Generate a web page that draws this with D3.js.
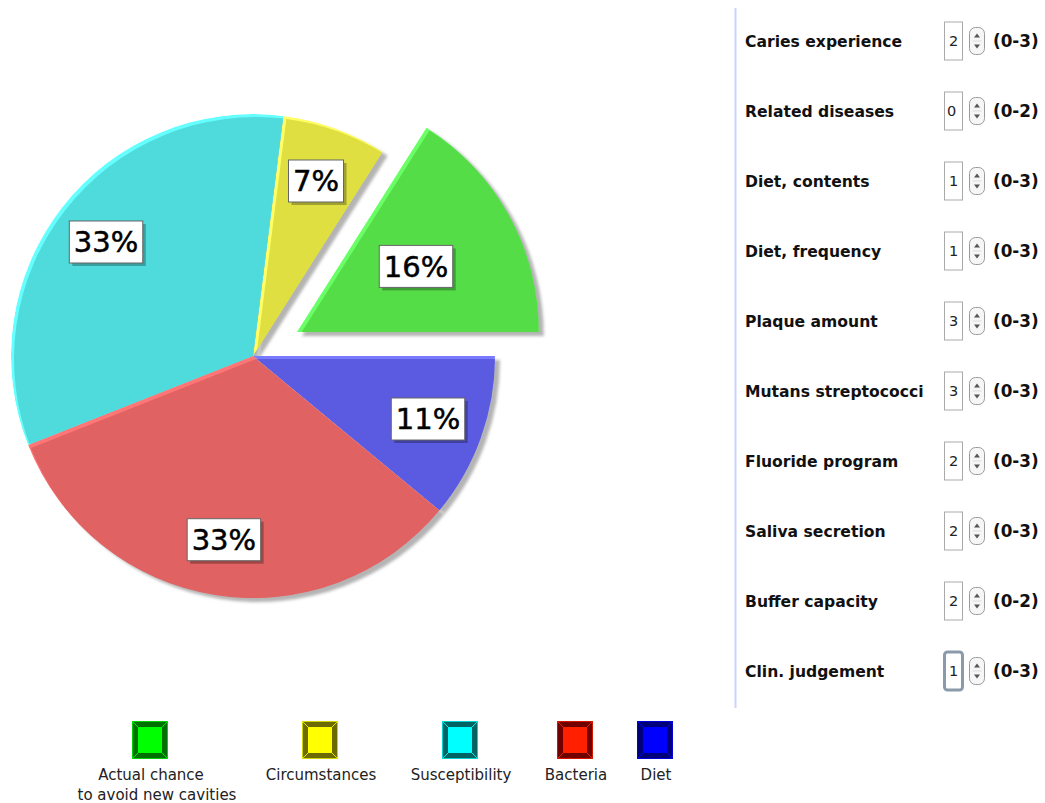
<!DOCTYPE html>
<html><head><meta charset="utf-8">
<script src="https://cdn.jsdelivr.net/npm/d3@7"></script>
<style>body{margin:0;background:#fff;}svg{display:block;}</style>
</head><body>
<svg id="c" width="1045" height="803"></svg>
<script>
// ---- data ----
const categories = ["Actual chance|to avoid new cavities", "Circumstances", "Susceptibility", "Bacteria", "Diet"];
const shares = [16, 7, 33, 33, 11];
const exploded = [true, false, false, false, false];
const sliceColors = ["#55dd48", "#dfdf42", "#4fdbdb", "#e06262", "#5b5be2"];
const sliceHighlights = ["#6aff66", "#ffff66", "#66ffff", "#ff7676", "#7a7aff"];
const legendColors = ["#00ff00", "#ffff00", "#00ffff", "#ff2000", "#0000ff"];
const legendDark = ["#007000", "#6b6b00", "#006464", "#700000", "#00007a"];

const factorLabels = ["Caries experience", "Related diseases", "Diet, contents", "Diet, frequency", "Plaque amount", "Mutans streptococci", "Fluoride program", "Saliva secretion", "Buffer capacity", "Clin. judgement"];
const factorValues = [2, 0, 1, 1, 3, 3, 2, 2, 2, 1];
const factorRanges = ["(0-3)", "(0-2)", "(0-3)", "(0-3)", "(0-3)", "(0-3)", "(0-3)", "(0-3)", "(0-2)", "(0-3)"];

// ---- layout ----
const svg = d3.select("#c");
const cx = 253, cy = 356, R = 242, explodeDist = 50, labelR = 186;

const defs = svg.append("defs");
const blur = defs.append("filter").attr("id", "blur").attr("x", "-10%").attr("y", "-10%").attr("width", "120%").attr("height", "120%");
blur.append("feGaussianBlur").attr("stdDeviation", 1.6);

const pie = d3.pie().sort(null).value(d => d).startAngle(Math.PI / 2).endAngle(Math.PI / 2 - 2 * Math.PI);
const arcs = pie(shares);
const arc = d3.arc().innerRadius(0).outerRadius(R);
const labelArc = d3.arc().innerRadius(labelR).outerRadius(labelR);

function offset(d, i) {
  if (!exploded[i]) return [0, 0];
  const m = (d.startAngle + d.endAngle) / 2;
  return [Math.sin(m) * explodeDist, -Math.cos(m) * explodeDist];
}

const g = svg.append("g").attr("transform", `translate(${cx},${cy})`);

// shadows
g.selectAll("path.shadow").data(arcs).join("path")
  .attr("class", "shadow")
  .attr("d", arc)
  .attr("fill", "#b4b4b4")
  .attr("filter", "url(#blur)")
  .attr("transform", (d, i) => { const o = offset(d, i); return `translate(${o[0] + 5},${o[1] + 4})`; });

// slices with bevel highlight
arcs.forEach((d, i) => {
  const o = offset(d, i);
  const sg = g.append("g").attr("transform", `translate(${o[0]},${o[1]})`);
  defs.append("clipPath").attr("id", "clip" + i).append("path").attr("d", arc(d));
  const inner = sg.append("g").attr("clip-path", `url(#clip${i})`);
  inner.append("path").attr("d", arc(d)).attr("fill", sliceHighlights[i]);
  inner.append("path").attr("d", arc(d)).attr("fill", sliceColors[i]).attr("transform", "translate(3,3)");
});

// labels
arcs.forEach((d, i) => {
  const [lx, ly] = labelArc.centroid(d);
  const lg = g.append("g").attr("transform", `translate(${lx},${ly})`);
  const shadowRect = lg.append("rect").attr("fill", "rgba(0,0,0,0.28)");
  const rect = lg.append("rect").attr("fill", "#fff").attr("stroke", "#666").attr("stroke-width", 1);
  const t = lg.append("text").text(d.data + "%")
    .attr("text-anchor", "middle").attr("dy", "0.36em")
    .style("font-family", "DejaVu Sans").style("font-size", "29px")
    .attr("fill", "#000").attr("stroke", "#000").attr("stroke-width", 0.5);
  const w = t.node().getComputedTextLength() + 9, h = 42;
  rect.attr("x", -w / 2).attr("y", -h / 2).attr("width", w).attr("height", h);
  shadowRect.attr("x", -w / 2 + 3).attr("y", -h / 2 + 3).attr("width", w).attr("height", h);
});

// legend
const legendX = d3.scaleOrdinal().domain(categories).range([150, 320, 460, 575, 655]);
const lgnd = svg.append("g");
categories.forEach((c, i) => {
  const x = legendX(c), s = 36, hgt = 38, y0 = 721, b = 6;
  const gg = lgnd.append("g").attr("transform", `translate(${x - s / 2},${y0})`);
  gg.append("rect").attr("width", s).attr("height", hgt).attr("fill", legendDark[i]);
  gg.append("path").attr("d", `M0,0 H${s} L${s - b},${b} H${b} V${hgt - b} L0,${hgt} Z`).attr("fill", legendDark[i]).attr("opacity", 0.9);
  gg.append("rect").attr("x", b).attr("y", b).attr("width", s - 2 * b).attr("height", hgt - 2 * b).attr("fill", legendColors[i]);
  gg.append("path").attr("d", `M0.5,0.5 L${b},${b} M${s - 0.5},0.5 L${s - b},${b} M0.5,${hgt - 0.5} L${b},${hgt - b} M${s - 0.5},${hgt - 0.5} L${s - b},${hgt - b}`)
    .attr("stroke", legendColors[i]).attr("stroke-width", 1).attr("opacity", 0.8);
  gg.append("rect").attr("x", 0.5).attr("y", 0.5).attr("width", s - 1).attr("height", hgt - 1).attr("fill", "none").attr("stroke", legendColors[i]).attr("stroke-opacity", 0.7);
  const lines = c.split("|");
  const tx = lgnd.append("text").attr("text-anchor", "middle")
    .style("font-family", "DejaVu Sans").style("font-size", "15px").attr("fill", "#222");
  lines.forEach((ln, j) => {
    tx.append("tspan").attr("x", x + (j === 1 ? 7 : 1)).attr("y", 780 + j * 20).text(ln);
  });
});

// right panel
svg.append("line").attr("x1", 735.5).attr("x2", 735.5).attr("y1", 8).attr("y2", 708)
  .attr("stroke", "#c9d3fb").attr("stroke-width", 2);

const rowY = d3.scalePoint().domain(factorLabels).range([41, 671]);
const panel = svg.append("g");
factorLabels.forEach((lab, i) => {
  const y = rowY(lab);
  panel.append("text").attr("x", 745).attr("y", y).attr("dy", "0.36em").text(lab)
    .style("font-family", "DejaVu Sans").style("font-weight", "bold").style("font-size", "15.6px").attr("fill", "#111");
  const last = i === factorLabels.length - 1;
  panel.append("rect").attr("x", 944.5).attr("y", y - 19).attr("width", 18).attr("height", 38)
    .attr("fill", "#fff")
    .attr("stroke", last ? "#8a9aaa" : "#aaa").attr("stroke-width", last ? 3 : 1).attr("rx", last ? 3 : 0);
  panel.append("text").attr("x", i === 1 ? 947 : 949).attr("y", y).attr("dy", "0.36em").text(factorValues[i])
    .style("font-family", "DejaVu Sans").style("font-size", "14.5px").attr("fill", "#222");
  const sp = panel.append("g").attr("transform", `translate(969.5,${y - 13.5})`);
  sp.append("rect").attr("width", 15).attr("height", 27).attr("rx", 6).attr("fill", "#f6f6f6").attr("stroke", "#9a9a9a");
  sp.append("line").attr("x1", 3).attr("x2", 12).attr("y1", 13.5).attr("y2", 13.5).attr("stroke", "#ddd");
  sp.append("path").attr("d", "M7.5,6 L10.5,10 L4.5,10 Z").attr("fill", "#555");
  sp.append("path").attr("d", "M7.5,21 L10.5,17 L4.5,17 Z").attr("fill", "#555");
  panel.append("text").attr("x", 993).attr("y", y).attr("dy", "0.36em").text(factorRanges[i])
    .style("font-family", "DejaVu Sans").style("font-weight", "bold").style("font-size", "16.8px").attr("fill", "#111");
});
</script>
</body></html>
